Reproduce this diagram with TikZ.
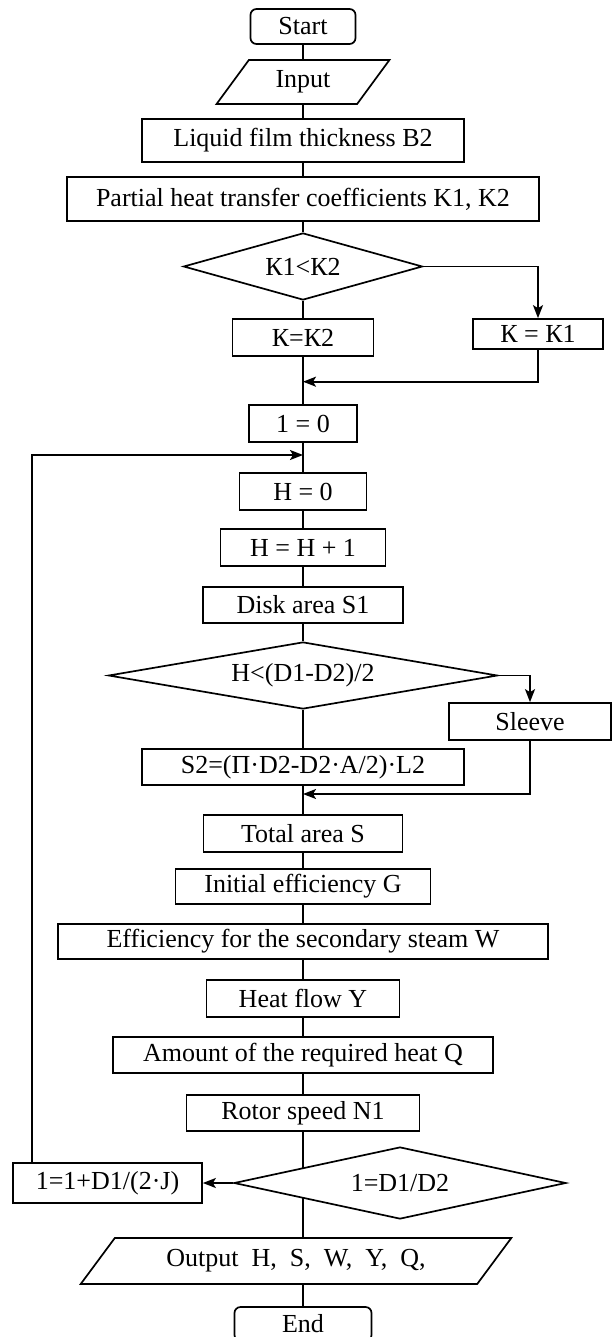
\documentclass[tikz,border=0pt]{standalone}
\usepackage{fontspec}
\setmainfont{Liberation Serif}
\usetikzlibrary{shapes.geometric, arrows.meta, backgrounds}

\begin{document}
\begin{tikzpicture}[x=1pt, y=-1pt, line width=1.7pt,
  >={Stealth[length=13pt, width=10pt, inset=3pt]},
  every node/.style={font=\fontsize{26}{30}\selectfont, inner sep=0pt},
  box/.style={rectangle, draw},
  term/.style={rectangle, draw, rounded corners=6pt},
  cond/.style={diamond, draw, fill=white},
  io/.style={trapezium, draw, trapezium stretches=true}]
\useasboundingbox (0,0) rectangle (612,1337);

\node[term, minimum width=105pt, minimum height=35pt] (start) at (303,26.5) {Start};
\node[io, trapezium left angle=54, trapezium right angle=126, minimum width=173pt, minimum height=44pt] (input) at (303,82) {Input};
\node[box, minimum width=322pt, minimum height=43pt] (liquid) at (303,140.5) {Liquid film thickness B2};
\node[box, minimum width=472pt, minimum height=44pt] (partial) at (303,199) {Partial heat transfer coefficients K1, K2};
\node[cond, aspect=3.57, minimum width=239pt, minimum height=67pt] (d1) at (303,266.5) {К1<К2};
\node[box, minimum width=141pt, minimum height=37pt] (kk2) at (303,337.5) {К=К2};
\node[box, minimum width=130pt, minimum height=30pt] (kk1) at (538,334) {К = К1};
\node[box, minimum width=108pt, minimum height=37pt] (i0) at (303,423.5) {1 = 0};
\node[box, minimum width=127pt, minimum height=37pt] (h0) at (303,491.5) {H = 0};
\node[box, minimum width=165pt, minimum height=37pt] (hh) at (303,547.5) {H = H + 1};
\node[box, minimum width=200pt, minimum height=36pt] (disk) at (303,605) {Disk area S1};
\node[cond, aspect=5.8, minimum width=389pt, minimum height=67pt] (d2) at (303,675.5) {H<(D1-D2)/2};
\node[box, minimum width=162pt, minimum height=37pt] (sleeve) at (530,721.5) {Sleeve};
\node[box, minimum width=322pt, minimum height=36pt] (s2) at (303,767) {S2=(Π·D2-D2·A/2)·L2};
\node[box, minimum width=199pt, minimum height=37pt] (total) at (303,833.5) {Total area S};
\node[box, minimum width=255pt, minimum height=35pt] (init) at (303,886.5) {Initial efficiency G};
\node[box, minimum width=490pt, minimum height=35pt] (eff) at (303,941.5) {Efficiency for the secondary steam W};
\node[box, minimum width=193pt, minimum height=37pt] (heat) at (303,998.5) {Heat flow Y};
\node[box, minimum width=380pt, minimum height=36pt] (amount) at (303,1055) {Amount of the required heat Q};
\node[box, minimum width=233pt, minimum height=36pt] (rotor) at (303,1113) {Rotor speed N1};
\node[cond, aspect=4.6, minimum width=332pt, minimum height=72pt] (d3) at (400,1183) {1=D1/D2};
\node[box, minimum width=189pt, minimum height=40pt] (inc) at (107.5,1183) {1=1+D1/(2·J)};
\node[io, trapezium left angle=43, trapezium right angle=137, minimum width=432pt, minimum height=46pt] (outp) at (296,1261) {Output\ \ H,\ \ S,\ \ W,\ \ Y,\ \ Q,};
\node[term, minimum width=137pt, minimum height=34pt] (end) at (303,1324) {End};

\coordinate (m1) at (303,381.7);
\coordinate (loopx) at (32,455);
\coordinate (loopin) at (303,455);
\coordinate (m2) at (303,794);

\draw (start) -- (input);
\draw (input) -- (liquid);
\draw (liquid) -- (partial);
\draw (partial) -- (d1);
\draw[->] (d1.east) -| (kk1.north);
\draw (d1) -- (kk2);
\draw (kk2) -- (i0);
\draw[->] (kk1.south) |- (m1);
\draw (i0) -- (h0);
\draw[->] (inc.north -| loopx) -- (loopx) -- (loopin);
\draw (h0) -- (hh);
\draw (hh) -- (disk);
\draw (disk) -- (d2);
\draw[->] (d2.east) -| (sleeve.north);
\draw (d2) -- (s2);
\draw[->] (sleeve.south) |- (m2);
\draw (s2) -- (total);
\draw (total) -- (init);
\draw (init) -- (eff);
\draw (eff) -- (heat);
\draw (heat) -- (amount);
\draw (amount) -- (rotor);
\begin{scope}[on background layer]
  \draw[line width=1.7pt] (rotor.south) -- (rotor.south |- outp.north);
\end{scope}
\draw[->] (d3.west) -- (inc.east);
\draw (end.north |- outp.south) -- (end.north);
\end{tikzpicture}
\end{document}
